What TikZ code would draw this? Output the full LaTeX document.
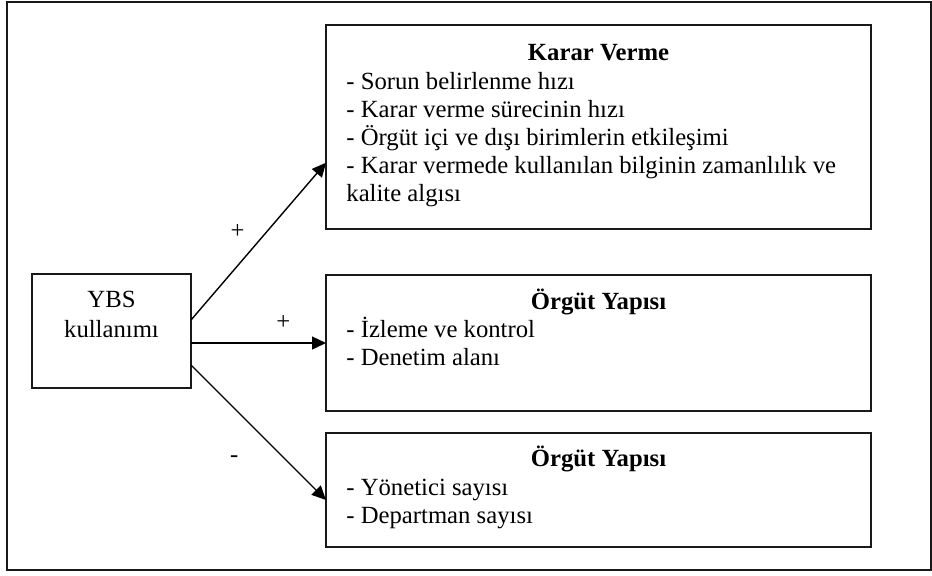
\documentclass[tikz,border=0pt]{standalone}
\usepackage{fontspec}
\setmainfont{Liberation Serif}
\usetikzlibrary{arrows.meta}
\begin{document}
\begin{tikzpicture}[x=0.5pt,y=-0.5pt,
  frame/.style={draw=black!90, line width=0.7pt},
  box/.style={draw=black!90, line width=0.7pt, inner sep=0pt, outer sep=0pt},
  txt/.style={inner sep=0pt, font=\fontsize{12.35}{14}\selectfont},
  head/.style={txt, font=\fontsize{12.35}{14}\selectfont\bfseries, anchor=base},
  item/.style={txt, anchor=base west},
  link/.style={line width=0.7pt, -{Triangle[length=7pt,width=6.5pt]}},
  sign/.style={txt}]
\useasboundingbox (0,0) rectangle (932,575);
\draw[frame] (7,2) rectangle (931,570);

% boxes
\node[box, minimum width=79.5pt, minimum height=57pt] (ybs) at (111.5,331) {};
\node[box, minimum width=272.5pt, minimum height=102pt] (karar) at (598.5,127) {};
\node[box, minimum width=272.5pt, minimum height=68pt] (org1) at (598.5,343) {};
\node[box, minimum width=272.5pt, minimum height=57pt] (org2) at (598.5,490) {};

% YBS box text
\node[txt, anchor=base] (ybs1) at (111.5,307) {YBS};
\node[txt, anchor=base] (ybs2) at (111.5,337) {kullanımı};

% decision making
\node[head] (k0) at (598.5,60) {Karar Verme};
\node[item] (k1) at (346,89) {- Sorun belirlenme hızı};
\node[item] (k2) at (346,117) {- Karar verme sürecinin hızı};
\node[item] (k3) at (346,145) {- Örgüt içi ve dışı birimlerin etkileşimi};
\node[item] (k4) at (346,173) {- Karar vermede kullanılan bilginin zamanlılık ve};
\node[item] (k5) at (346,201) {kalite algısı};

% structure (positive)
\node[head] (a0) at (598.5,309) {Örgüt Yapısı};
\node[item] (a1) at (346,337) {- İzleme ve kontrol};
\node[item] (a2) at (346,365) {- Denetim alanı};

% structure (negative)
\node[head] (b0) at (598.5,466) {Örgüt Yapısı};
\node[item] (b1) at (346,495) {- Yönetici sayısı};
\node[item] (b2) at (346,523) {- Departman sayısı};

% connectors
\draw[link] ([yshift=5.5pt]ybs.east) -- ([yshift=-17.85pt]karar.west);
\draw[link] ([yshift=-6pt]ybs.east) -- (org1.west);
\draw[link] ([yshift=-17pt]ybs.east) -- ([yshift=-5pt]org2.west);

% signs
\node[sign] (s1) at (237.7,231.7) {+};
\node[sign] (s2) at (283.3,322.7) {+};
\node[sign] (s3) at (234.3,459.3) {-};
\end{tikzpicture}
\end{document}
